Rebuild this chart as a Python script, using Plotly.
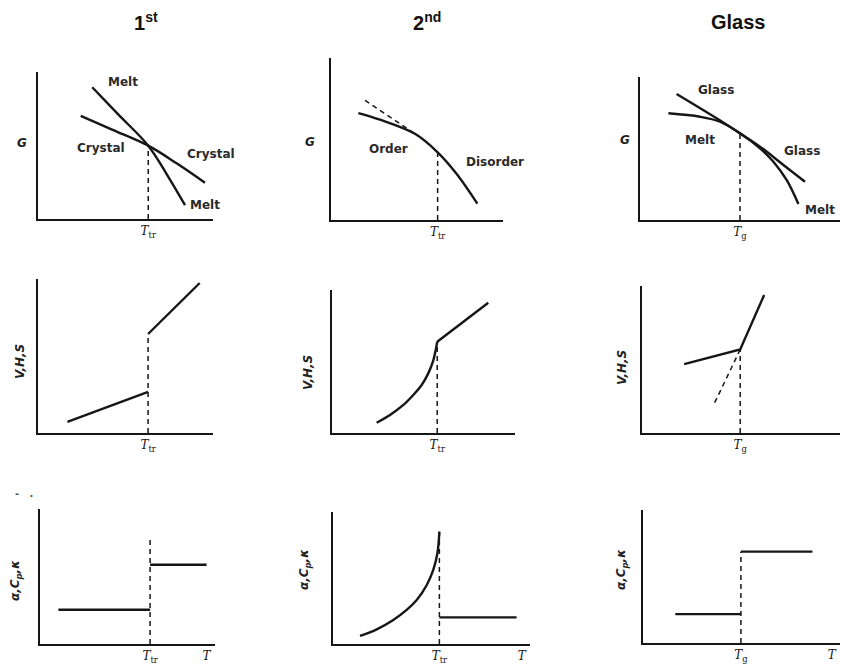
import plotly.graph_objects as go

W, H = 841, 664

# ---------------- data (abstract units, 0..10 on each panel) ----------------
# Row 1 : Gibbs free energy G vs T
p1_melt_T = [3.10, 4.57, 6.30, 7.35, 8.40]
p1_melt_G = [8.96, 7.13, 4.99, 3.06, 0.95]
p1_cryst_T = [2.44, 4.30, 6.30, 7.92, 9.54]
p1_cryst_G = [7.01, 6.05, 4.99, 3.79, 2.47]
p1_Ttr, p1_Gtr = 6.30, 4.99

p2_curve_T = [1.59, 2.85, 4.88, 6.20, 7.31, 8.51]
p2_curve_G = [6.60, 6.19, 5.32, 4.18, 2.84, 1.01]
p2_tan_T = [1.98, 4.88]
p2_tan_G = [7.39, 5.32]
p2_Ttr, p2_Gtr = 6.20, 4.18

p3_glass_T = [1.83, 3.83, 5.00, 6.00, 7.17, 8.25]
p3_glass_G = [8.81, 7.11, 6.06, 5.13, 3.85, 2.68]
p3_melt_T = [1.42, 3.00, 4.00, 5.00, 6.00, 6.67, 7.33, 7.92]
p3_melt_G = [7.46, 7.22, 6.87, 6.06, 5.01, 4.08, 2.80, 1.12]
p3_Tg, p3_Gg = 5.00, 6.06

# Row 2 : V, H, S vs T
p4_low_T = [1.68, 6.29]
p4_low_V = [0.72, 2.67]
p4_high_T = [6.29, 9.24]
p4_high_V = [6.43, 9.74]
p4_Ttr = 6.29

p5_curve_T = [2.44, 3.17, 3.90, 4.44, 4.90, 5.26, 5.54, 5.75]
p5_curve_V = [0.72, 1.26, 1.96, 2.66, 3.36, 4.17, 5.10, 6.38]
p5_line_T = [5.75, 8.54]
p5_line_V = [6.38, 9.11]
p5_Ttr = 5.75

p6_solid_T = [2.13, 4.96, 6.17]
p6_solid_V = [4.68, 5.68, 9.39]
p6_ext_T = [4.96, 3.61]
p6_ext_V = [5.68, 1.89]
p6_Tg = 4.96

# Row 3 : alpha, Cp, kappa vs T
p7_low_T = [1.05, 6.29]
p7_low_C = [2.54, 2.54]
p7_high_T = [6.29, 9.52]
p7_high_C = [5.87, 5.87]
p7_Ttr, p7_dash_top, p7_Tend = 6.29, 7.85, 9.52

p8_curve_T = [1.37, 2.22, 3.06, 3.74, 4.25, 4.76, 5.09, 5.30, 5.40]
p8_curve_C = [0.61, 1.11, 1.82, 2.58, 3.33, 4.47, 5.61, 6.87, 8.51]
p8_high_T = [5.40, 9.32]
p8_high_C = [2.02, 2.02]
p8_Ttr, p8_Tend = 5.40, 9.58

p9_low_T = [1.64, 4.97]
p9_low_C = [2.17, 2.17]
p9_high_T = [4.97, 8.60]
p9_high_C = [6.87, 6.87]
p9_Tg, p9_Tend = 4.97, 9.58

col_titles = ["1<sup>st</sup>", "2<sup>nd</sup>", "Glass"]
Ttr_label = "<i>T</i><sub>tr</sub>"
Tg_label = "<i>T</i><sub>g</sub>"
T_label = "<i>T</i>"

# ---------------- layout geometry (pixel boxes: left, right, top, bottom) ----
boxes = {
    1: (38, 213, 72, 219), 2: (331, 503, 58, 220), 3: (640, 840, 77, 220),
    4: (38, 213, 279, 433), 5: (332, 515, 290, 433), 6: (642, 840, 286, 433),
    7: (40, 215, 509, 644), 8: (333, 530, 512, 644), 9: (643, 840, 510, 643),
}

INK = "#161616"
fig = go.Figure()


def add(panel, x, y, dash=None, shape="linear", width=2.4):
    sfx = "" if panel == 1 else str(panel)
    fig.add_trace(go.Scatter(
        x=x, y=y, mode="lines", xaxis="x" + sfx, yaxis="y" + sfx,
        line=dict(color=INK, width=width if dash is None else 1.5,
                  dash=dash if dash else "solid", shape=shape, smoothing=1.0),
        showlegend=False, hoverinfo="skip"))


DASH = "5px,4px"
# panel 1
add(1, p1_melt_T, p1_melt_G, shape="spline")
add(1, p1_cryst_T, p1_cryst_G, shape="spline")
add(1, [p1_Ttr, p1_Ttr], [0, p1_Gtr], dash=DASH)
# panel 2
add(2, p2_curve_T, p2_curve_G, shape="spline")
add(2, p2_tan_T, p2_tan_G, dash=DASH)
add(2, [p2_Ttr, p2_Ttr], [0, p2_Gtr], dash=DASH)
# panel 3
add(3, p3_glass_T, p3_glass_G, shape="spline")
add(3, p3_melt_T, p3_melt_G, shape="spline")
add(3, [p3_Tg, p3_Tg], [0, p3_Gg], dash=DASH)
# panel 4
add(4, p4_low_T, p4_low_V)
add(4, p4_high_T, p4_high_V)
add(4, [p4_Ttr, p4_Ttr], [0, p4_high_V[0]], dash=DASH)
# panel 5
add(5, p5_curve_T, p5_curve_V, shape="spline")
add(5, p5_line_T, p5_line_V)
add(5, [p5_Ttr, p5_Ttr], [0, p5_line_V[0]], dash=DASH)
# panel 6
add(6, p6_solid_T, p6_solid_V)
add(6, p6_ext_T, p6_ext_V, dash=DASH)
add(6, [p6_Tg, p6_Tg], [0, p6_solid_V[1]], dash=DASH)
# panel 7
add(7, p7_low_T, p7_low_C)
add(7, p7_high_T, p7_high_C)
add(7, [p7_Ttr, p7_Ttr], [0, p7_dash_top], dash=DASH)
# panel 8
add(8, p8_curve_T, p8_curve_C, shape="spline")
add(8, p8_high_T, p8_high_C)
add(8, [p8_Ttr, p8_Ttr], [0, p8_curve_C[-1]], dash=DASH)
# panel 9
add(9, p9_low_T, p9_low_C)
add(9, p9_high_T, p9_high_C)
add(9, [p9_Tg, p9_Tg], [0, p9_high_C[0]], dash=DASH)

ticks = {
    1: ([p1_Ttr], [Ttr_label]), 2: ([p2_Ttr], [Ttr_label]), 3: ([p3_Tg], [Tg_label]),
    4: ([p4_Ttr], [Ttr_label]), 5: ([p5_Ttr], [Ttr_label]), 6: ([p6_Tg], [Tg_label]),
    7: ([p7_Ttr, p7_Tend], [Ttr_label, T_label]),
    8: ([p8_Ttr, p8_Tend], [Ttr_label, T_label]),
    9: ([p9_Tg, p9_Tend], [Tg_label, T_label]),
}

layout = dict(width=W, height=H, margin=dict(l=0, r=0, t=0, b=0),
              paper_bgcolor="white", plot_bgcolor="white", showlegend=False)
for p, (l, r, t, b) in boxes.items():
    sfx = "" if p == 1 else str(p)
    layout["xaxis" + sfx] = dict(
        domain=[l / W, r / W], range=[0, 10], anchor="y" + sfx,
        showline=True, linewidth=2, linecolor=INK, showgrid=False, zeroline=False,
        ticks="", tickvals=ticks[p][0], ticktext=ticks[p][1],
        tickfont=dict(family="DejaVu Serif", size=12, color=INK), fixedrange=True)
    layout["yaxis" + sfx] = dict(
        domain=[1 - b / H, 1 - t / H], range=[0, 10], anchor="x" + sfx,
        showline=True, linewidth=2, linecolor=INK, showgrid=False, zeroline=False,
        showticklabels=False, ticks="", fixedrange=True)
fig.update_layout(**layout)

LBL = dict(family="DejaVu Sans", size=12, color="#2a2a2a")


def note(text, x, y, ref=None, size=None, angle=0, font=None, bold=True):
    f = dict(font or LBL)
    if size:
        f["size"] = size
    f["weight"] = "bold" if bold else "normal"
    if ref is None:
        fig.add_annotation(text=text, x=x / W, y=1 - y / H, xref="paper", yref="paper",
                           showarrow=False, font=f, textangle=angle,
                           xanchor="center", yanchor="middle")
    else:
        sfx = "" if ref == 1 else str(ref)
        fig.add_annotation(text=text, x=x, y=y, xref="x" + sfx, yref="y" + sfx,
                           showarrow=False, font=f, xanchor="center", yanchor="middle")


# column titles
TF = dict(family="Liberation Sans", size=20, color="#111")
for txt, cx in zip(col_titles, [146, 427, 738]):
    note(txt, cx, 22, font=TF)

# curve labels
note("Melt", 4.86, 9.3, ref=1)
note("Crystal", 3.6, 4.85, ref=1)
note("Crystal", 9.9, 4.4, ref=1)
note("Melt", 9.55, 0.95, ref=1)
note("Order", 3.35, 4.4, ref=2)
note("Disorder", 9.55, 3.6, ref=2)
note("Glass", 3.8, 9.1, ref=3)
note("Melt", 3.0, 5.6, ref=3)
note("Glass", 8.1, 4.8, ref=3)
note("Melt", 9.0, 0.7, ref=3)

# y-axis labels
AX = dict(family="DejaVu Sans", size=12, color="#222")
for x, y in [(22, 143), (310, 142), (625, 140)]:
    note("<i>G</i>", x, y, font=AX)
for x, y in [(20, 362), (308, 373), (622, 368)]:
    note("<i>V,H,S</i>", x, y, angle=-90, font=AX)
for x, y in [(16, 580), (305, 570), (622, 570)]:
    note("<i>α,C<sub>p</sub>,κ</i>", x, y, angle=-90, font=AX)

# small scan marks above the lower-left panel
note("-   .", 24, 493, font=dict(family="DejaVu Sans", size=10, color="#555"))

fig.write_html("out.html")
